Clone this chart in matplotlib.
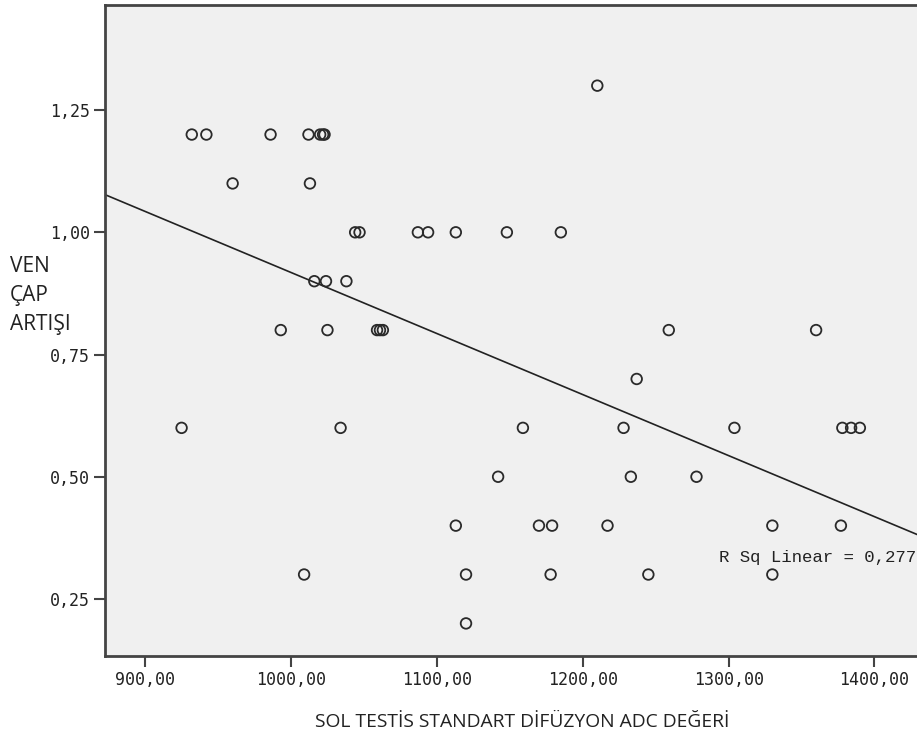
import numpy as np
import matplotlib.pyplot as plt

# ADC values (x) and vein diameter increase (y)
adc = [1210,
       932, 942, 986, 1012, 1020, 1022, 1023,
       960, 1013,
       1044, 1047, 1087, 1094, 1113, 1148, 1185,
       1016, 1024, 1038,
       993, 1025, 1059, 1061, 1063, 1259, 1360,
       1237,
       925, 1034, 1159, 1228, 1304, 1378, 1384, 1390,
       1142, 1233, 1278,
       1113, 1170, 1179, 1217, 1330, 1377,
       1009, 1120, 1178, 1245, 1330,
       1120]
artis = [1.3,
         1.2, 1.2, 1.2, 1.2, 1.2, 1.2, 1.2,
         1.1, 1.1,
         1.0, 1.0, 1.0, 1.0, 1.0, 1.0, 1.0,
         0.9, 0.9, 0.9,
         0.8, 0.8, 0.8, 0.8, 0.8, 0.8, 0.8,
         0.7,
         0.6, 0.6, 0.6, 0.6, 0.6, 0.6, 0.6, 0.6,
         0.5, 0.5, 0.5,
         0.4, 0.4, 0.4, 0.4, 0.4, 0.4,
         0.3, 0.3, 0.3, 0.3, 0.3,
         0.2]

xticks = [900, 1000, 1100, 1200, 1300, 1400]
yticks = [0.25, 0.50, 0.75, 1.00, 1.25]

x = np.array(adc, dtype=float)
y = np.array(artis)
b, a = np.polyfit(x, y, 1)
r2 = np.corrcoef(x, y)[0, 1] ** 2

fig = plt.figure(figsize=(9.17, 7.45), dpi=100)
ax = fig.add_axes([0.1145, 0.1199, 0.89, 0.8734])
ax.set_facecolor("#f0f0f0")

xmin, xmax = 872.5, 1432
ax.set_xlim(xmin, xmax)
ax.set_ylim(0.134, 1.465)

ax.scatter(x, y, s=58, facecolors="none", edgecolors="#2a2a2a", linewidths=1.3, zorder=3)
xx = np.array([xmin, xmax])
ax.plot(xx, a + b * xx, color="#222222", lw=1.2, zorder=2)

ax.set_xticks(xticks)
ax.set_xticklabels([f"{v},00" for v in xticks], family="DejaVu Sans Mono", fontsize=12)
ax.set_yticks(yticks)
ax.set_yticklabels([f"{v:.2f}".replace(".", ",") for v in yticks], family="DejaVu Sans Mono", fontsize=12)
ax.tick_params(direction="out", length=8, width=1.5, color="#444444", labelcolor="#222222", pad=3)

for side in ["left", "bottom", "top"]:
    ax.spines[side].set_color("#444444")
    ax.spines[side].set_linewidth(2)
ax.spines["right"].set_visible(False)

ax.text(755, 1.42, "p<0,01", family="Open Sans", fontsize=16, color="#222222", ha="center", va="center")
fig.text(0.999, 0.2523, f"R Sq Linear = {r2:.3f}".replace(".", ","),
         family="Liberation Mono", fontsize=12.5, color="#222222", ha="right", va="center")

fig.text(0.011, 0.603, "VEN\nÇAP\nARTIŞI", family="Open Sans", fontsize=15, color="#222222",
         ha="left", va="center", linespacing=1.5)
fig.text(0.569, 0.031, "SOL TESTİS STANDART DİFÜZYON ADC DEĞERİ", family="Open Sans",
         fontsize=13.9, color="#222222", ha="center", va="center")

fig.savefig("out.png", dpi=100)
